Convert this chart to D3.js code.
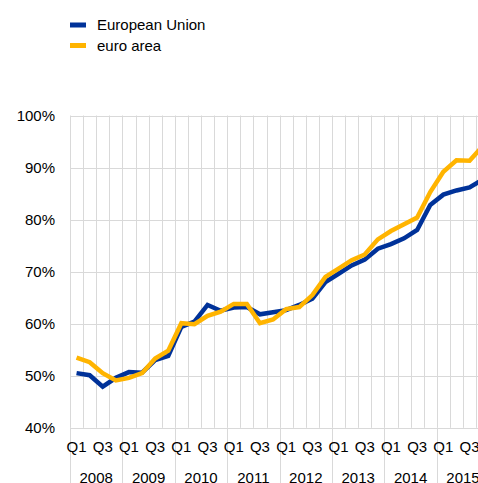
<!DOCTYPE html>
<html>
<head>
<meta charset="utf-8">
<script src="https://cdn.jsdelivr.net/npm/d3@7"></script>
<style>
  html, body { margin: 0; padding: 0; background: #fff; }
  svg { display: block; font-family: Arial, "Liberation Sans", sans-serif; }
</style>
</head>
<body>
<div id="chart"></div>
<script>
const years = [2008, 2009, 2010, 2011, 2012, 2013, 2014, 2015];
const quarters = ["Q1", "Q2", "Q3", "Q4"];
const yTicks = [40, 50, 60, 70, 80, 90, 100];

// share in %, 2008 Q1 .. 2015 Q4
const europeanUnion = [
  50.5, 50.1, 47.9, 49.6, 50.7, 50.6, 53.0, 53.8,
  59.4, 60.4, 63.6, 62.5, 63.1, 63.2, 61.8, 62.2,
  62.6, 63.6, 64.8, 68.0, 69.6, 71.2, 72.3, 74.4,
  75.3, 76.4, 78.0, 82.8, 84.8, 85.6, 86.2, 87.7,
];
const euroArea = [
  53.5, 52.6, 50.5, 49.1, 49.6, 50.5, 53.3, 54.8,
  60.1, 59.9, 61.5, 62.3, 63.8, 63.8, 60.1, 60.8,
  62.8, 63.2, 65.5, 69.0, 70.6, 72.2, 73.3, 76.2,
  77.8, 79.1, 80.4, 85.3, 89.2, 91.4, 91.3, 94.1,
];

const series = [
  { name: "European Union", color: "#003299", values: europeanUnion },
  { name: "euro area", color: "#ffb400", values: euroArea },
];

const width = 478;
const height = 483;
const margin = { top: 115.5, left: 70, bottom: 427.8 };
const step = 13.1;

const periods = years.flatMap((y) => quarters.map((q) => `${y}-${q}`));

const x = d3
  .scaleBand()
  .domain(periods)
  .range([margin.left, margin.left + step * periods.length]);

const y = d3.scaleLinear().domain([40, 100]).range([margin.bottom, margin.top]);

const svg = d3
  .select("#chart")
  .append("svg")
  .attr("width", width)
  .attr("height", height)
  .attr("viewBox", [0, 0, width, height]);

const grid = svg.append("g").attr("stroke", "#d9d9d9").attr("stroke-width", 1);

// vertical grid, one per quarter boundary
grid
  .selectAll("line.v")
  .data(periods)
  .join("line")
  .attr("class", "v")
  .attr("x1", (d) => Math.round(x(d)) + 0.5)
  .attr("x2", (d) => Math.round(x(d)) + 0.5)
  .attr("y1", margin.top)
  .attr("y2", margin.bottom);

// year separators reach down under the labels
grid
  .selectAll("line.yr")
  .data(years)
  .join("line")
  .attr("class", "yr")
  .attr("x1", (d) => Math.round(x(`${d}-Q1`)) + 0.5)
  .attr("x2", (d) => Math.round(x(`${d}-Q1`)) + 0.5)
  .attr("y1", margin.bottom)
  .attr("y2", height);

grid
  .selectAll("line.h")
  .data(yTicks)
  .join("line")
  .attr("class", "h")
  .attr("x1", margin.left)
  .attr("x2", width)
  .attr("y1", (d) => Math.round(y(d)) + 0.5)
  .attr("y2", (d) => Math.round(y(d)) + 0.5);

// y labels
svg
  .append("g")
  .selectAll("text")
  .data(yTicks)
  .join("text")
  .attr("x", 55)
  .attr("y", (d) => y(d))
  .attr("dy", "0.35em")
  .attr("text-anchor", "end")
  .attr("font-size", 15)
  .attr("fill", "#000")
  .text((d) => d + "%");

// quarter labels
svg
  .append("g")
  .selectAll("text")
  .data(periods.filter((p) => /Q[13]$/.test(p)))
  .join("text")
  .attr("x", (d) => x(d) + x.bandwidth() / 2)
  .attr("y", 452)
  .attr("text-anchor", "middle")
  .attr("font-size", 15)
  .text((d) => d.split("-")[1]);

// year labels
svg
  .append("g")
  .selectAll("text")
  .data(years)
  .join("text")
  .attr("x", (d) => x(`${d}-Q1`) + step * 2)
  .attr("y", 483)
  .attr("text-anchor", "middle")
  .attr("font-size", 15)
  .text((d) => d);

const line = d3
  .line()
  .x((d, i) => x(periods[i]) + x.bandwidth() / 2)
  .y((d) => y(d));

svg
  .append("g")
  .selectAll("path")
  .data(series)
  .join("path")
  .attr("fill", "none")
  .attr("stroke", (d) => d.color)
  .attr("stroke-width", 4.5)
  .attr("stroke-linejoin", "miter")
  .attr("d", (d) => line(d.values));

// legend
const legend = svg
  .append("g")
  .selectAll("g")
  .data(series)
  .join("g")
  .attr("transform", (d, i) => `translate(70,${25 + i * 20.5})`);

legend
  .append("rect")
  .attr("x", 0)
  .attr("y", -2.5)
  .attr("width", 16)
  .attr("height", 5)
  .attr("fill", (d) => d.color);

legend
  .append("text")
  .attr("x", 27)
  .attr("y", 0)
  .attr("dy", "0.35em")
  .attr("font-size", 15)
  .text((d) => d.name);
</script>
</body>
</html>
